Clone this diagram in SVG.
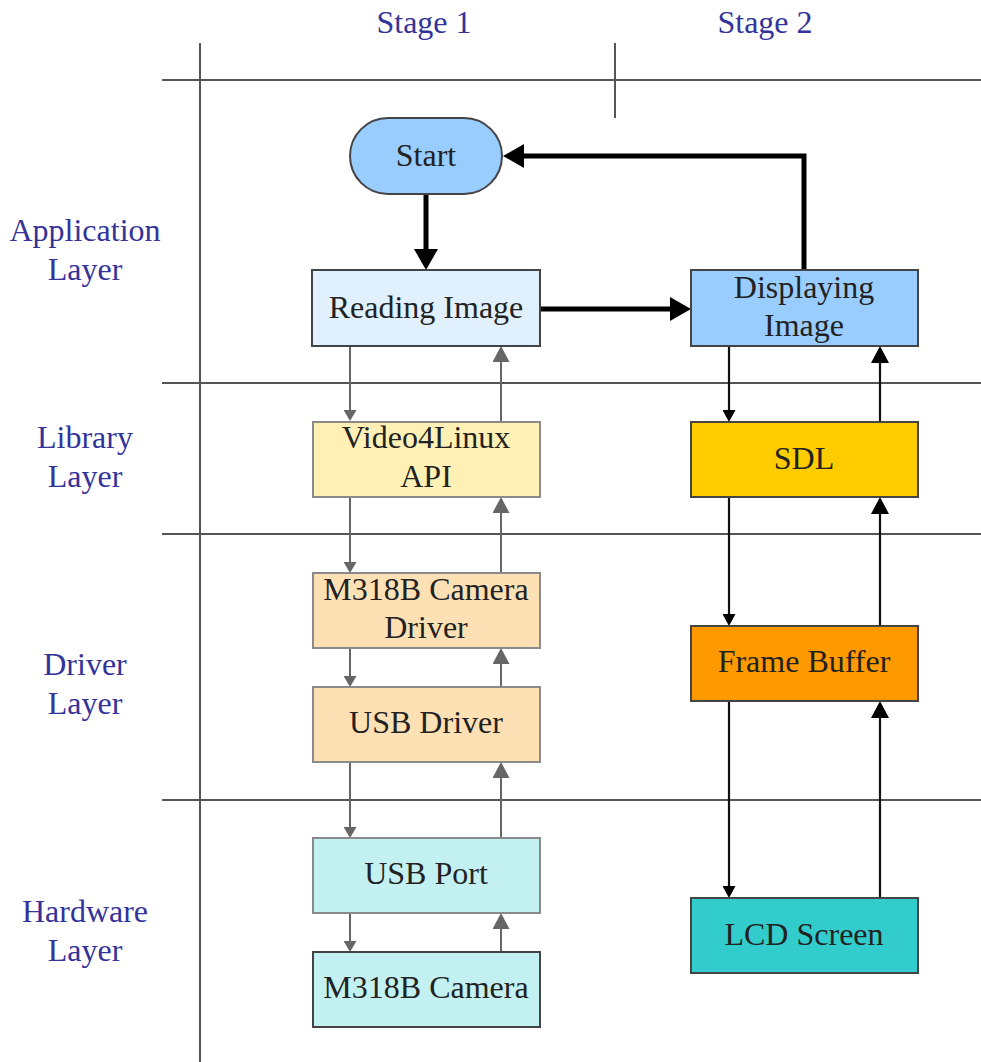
<svg xmlns="http://www.w3.org/2000/svg" width="981" height="1062" viewBox="0 0 981 1062">
  <style>
    .grid { stroke: #555; stroke-width: 2; fill: none; }
    .lbl { fill: #333399; text-anchor: middle; }
    .txt { fill: #222; text-anchor: middle; }
    .box { stroke: #444; stroke-width: 2; }
    .boxl { stroke: #8a8a8a; stroke-width: 2; }
    .thick { stroke: #000; stroke-width: 5; fill: none; }
    .gray { stroke: #666; stroke-width: 2; fill: none; }
    .blk { stroke: #111; stroke-width: 2.2; fill: none; }
  </style>
  <defs>
    <marker id="mThick" markerUnits="userSpaceOnUse" markerWidth="22" markerHeight="24" refX="0" refY="12" orient="auto">
      <path d="M0,0 L21,12 L0,24 z" fill="#000"/>
    </marker>
    <marker id="mGrayS" markerUnits="userSpaceOnUse" markerWidth="12" markerHeight="13" refX="0" refY="6.5" orient="auto">
      <path d="M0,0 L11,6.5 L0,13 z" fill="#666"/>
    </marker>
    <marker id="mGrayL" markerUnits="userSpaceOnUse" markerWidth="17" markerHeight="17" refX="0" refY="8.5" orient="auto">
      <path d="M0,0 L16,8.5 L0,17 z" fill="#666"/>
    </marker>
    <marker id="mBlkS" markerUnits="userSpaceOnUse" markerWidth="13" markerHeight="13" refX="0" refY="6.5" orient="auto">
      <path d="M0,0 L12,6.5 L0,13 z" fill="#000"/>
    </marker>
    <marker id="mBlkL" markerUnits="userSpaceOnUse" markerWidth="18" markerHeight="18" refX="0" refY="9" orient="auto">
      <path d="M0,0 L17,9 L0,18 z" fill="#000"/>
    </marker>
  </defs>

  <rect width="981" height="1062" fill="#fff"/>

  <!-- swimlane grid -->
  <g id="grid">
    <line class="grid" x1="162" y1="80" x2="981" y2="80" stroke-width="3"/>
    <line class="grid" x1="162" y1="383" x2="981" y2="383"/>
    <line class="grid" x1="162" y1="534" x2="981" y2="534"/>
    <line class="grid" x1="162" y1="800" x2="981" y2="800"/>
    <line class="grid" x1="200" y1="43" x2="200" y2="1062"/>
    <line class="grid" x1="615" y1="43" x2="615" y2="118"/>
  </g>

  <!-- lane headings -->
  <g id="headings" font-family="Liberation Serif, Times New Roman, serif" font-size="32">
    <text class="lbl" x="424" y="33">Stage 1</text>
    <text class="lbl" x="765" y="33">Stage 2</text>
    <text class="lbl" x="85" y="241">Application</text>
    <text class="lbl" x="85" y="280">Layer</text>
    <text class="lbl" x="85" y="448">Library</text>
    <text class="lbl" x="85" y="487">Layer</text>
    <text class="lbl" x="85" y="675">Driver</text>
    <text class="lbl" x="85" y="714">Layer</text>
    <text class="lbl" x="85" y="922">Hardware</text>
    <text class="lbl" x="85" y="961">Layer</text>
  </g>

  <!-- connectors -->
  <g id="connectors">
    <!-- main control flow -->
    <path class="thick" d="M426,194 V249" marker-end="url(#mThick)"/>
    <path class="thick" d="M540,309 H670" marker-end="url(#mThick)"/>
    <path class="thick" d="M804,270 V156 H524" marker-end="url(#mThick)"/>

    <!-- stage 1 request path (down) -->
    <path class="gray" d="M350,346 V410" marker-end="url(#mGrayS)"/>
    <path class="gray" d="M350,497 V562" marker-end="url(#mGrayS)"/>
    <path class="gray" d="M350,648 V676" marker-end="url(#mGrayS)"/>
    <path class="gray" d="M350,762 V827" marker-end="url(#mGrayS)"/>
    <path class="gray" d="M350,913 V941" marker-end="url(#mGrayS)"/>
    <!-- stage 1 data path (up) -->
    <path class="gray" d="M501,422 V362" marker-end="url(#mGrayL)"/>
    <path class="gray" d="M501,573 V513" marker-end="url(#mGrayL)"/>
    <path class="gray" d="M501,687 V664" marker-end="url(#mGrayL)"/>
    <path class="gray" d="M501,838 V778" marker-end="url(#mGrayL)"/>
    <path class="gray" d="M501,952 V929" marker-end="url(#mGrayL)"/>

    <!-- stage 2 down -->
    <path class="blk" d="M729,346 V410" marker-end="url(#mBlkS)"/>
    <path class="blk" d="M729,497 V614" marker-end="url(#mBlkS)"/>
    <path class="blk" d="M729,701 V886" marker-end="url(#mBlkS)"/>
    <!-- stage 2 up -->
    <path class="blk" d="M880,422 V363" marker-end="url(#mBlkL)"/>
    <path class="blk" d="M880,626 V514" marker-end="url(#mBlkL)"/>
    <path class="blk" d="M880,898 V718" marker-end="url(#mBlkL)"/>
  </g>

  <!-- nodes -->
  <g id="nodes" font-family="Liberation Serif, Times New Roman, serif" font-size="32">
    <g id="start">
      <rect class="box" x="350" y="118" width="152" height="76" rx="38" ry="38" fill="#99ccff"/>
      <text class="txt" x="426" y="166">Start</text>
    </g>
    <g id="reading-image">
      <rect class="box" x="312" y="270" width="228" height="76" fill="#e1f0fd"/>
      <text class="txt" x="426" y="318">Reading Image</text>
    </g>
    <g id="displaying-image">
      <rect class="box" x="691" y="270" width="227" height="76" fill="#99ccff"/>
      <text class="txt" x="804" y="298">Displaying</text>
      <text class="txt" x="804" y="336">Image</text>
    </g>
    <g id="video4linux">
      <rect class="boxl" x="313" y="422" width="227" height="75" fill="#fff1b5"/>
      <text class="txt" x="426" y="448">Video4Linux</text>
      <text class="txt" x="426" y="487">API</text>
    </g>
    <g id="sdl">
      <rect class="box" x="691" y="422" width="227" height="75" fill="#ffcc00"/>
      <text class="txt" x="804" y="469">SDL</text>
    </g>
    <g id="camera-driver">
      <rect class="boxl" x="313" y="573" width="227" height="75" fill="#fde1b5"/>
      <text class="txt" x="426" y="600">M318B Camera</text>
      <text class="txt" x="426" y="638">Driver</text>
    </g>
    <g id="usb-driver">
      <rect class="boxl" x="313" y="687" width="227" height="75" fill="#fde1b5"/>
      <text class="txt" x="426" y="733">USB Driver</text>
    </g>
    <g id="frame-buffer">
      <rect class="box" x="691" y="626" width="227" height="75" fill="#ff9900"/>
      <text class="txt" x="804" y="672">Frame Buffer</text>
    </g>
    <g id="usb-port">
      <rect class="boxl" x="313" y="838" width="227" height="75" fill="#c3f0f0"/>
      <text class="txt" x="426" y="884">USB Port</text>
    </g>
    <g id="camera">
      <rect class="box" x="313" y="952" width="227" height="75" fill="#c3f0f0"/>
      <text class="txt" x="426" y="998">M318B Camera</text>
    </g>
    <g id="lcd-screen">
      <rect class="box" x="691" y="898" width="227" height="75" fill="#33cccc"/>
      <text class="txt" x="804" y="945">LCD Screen</text>
    </g>
  </g>
</svg>
